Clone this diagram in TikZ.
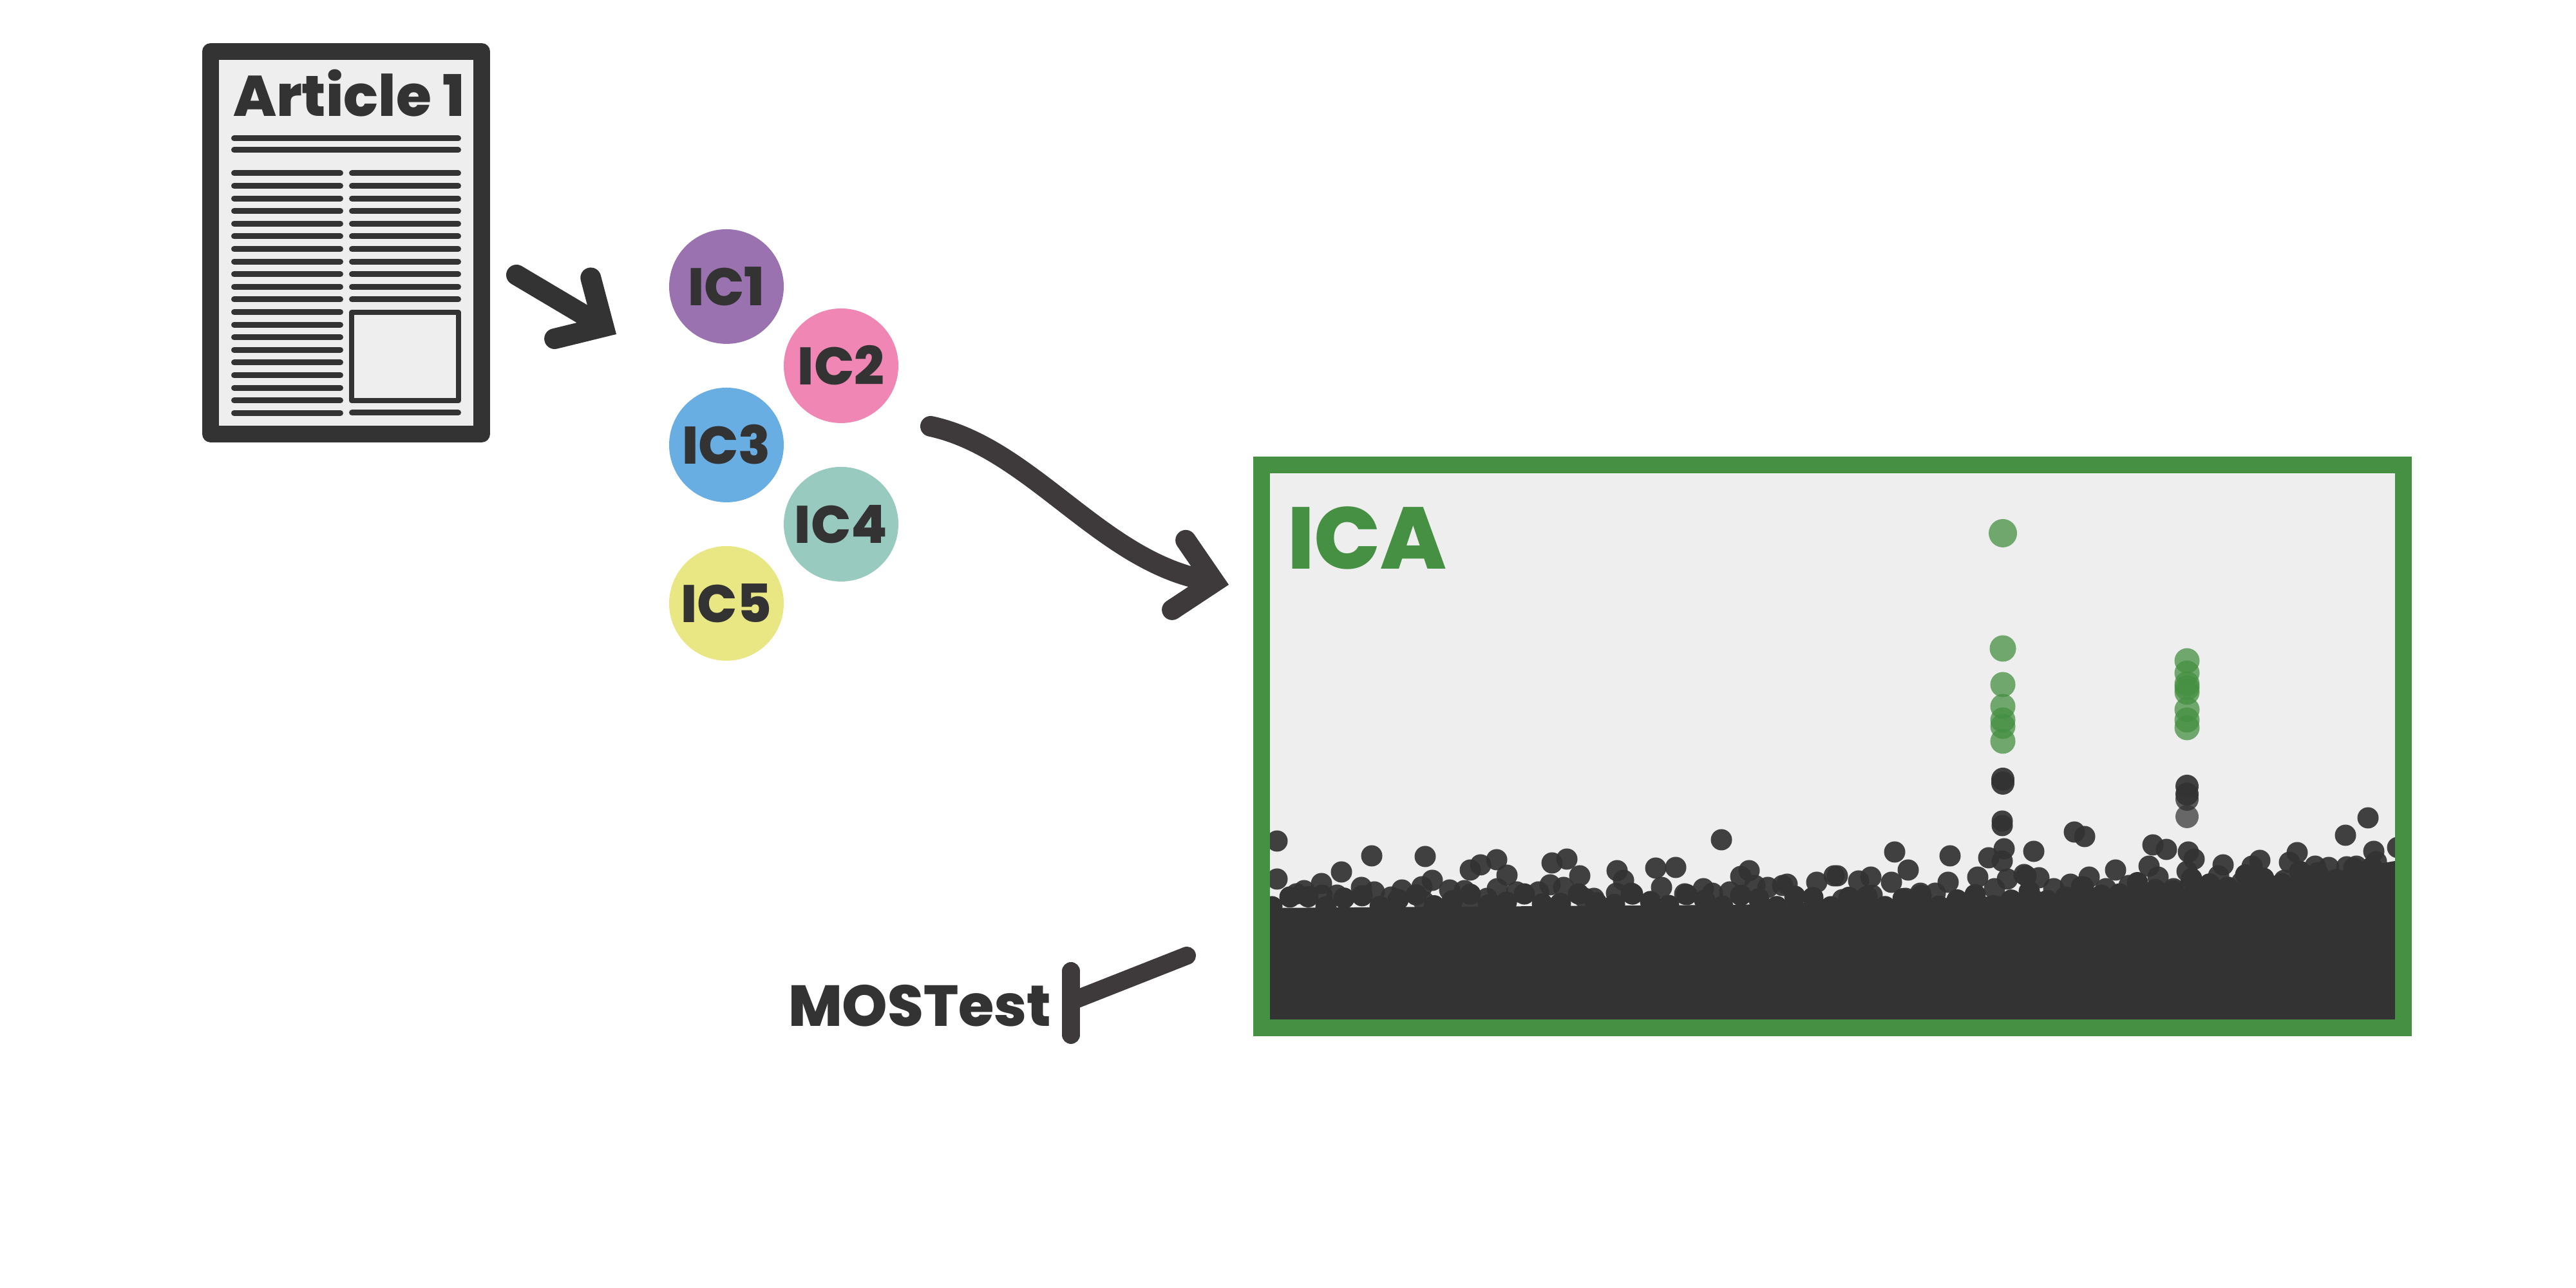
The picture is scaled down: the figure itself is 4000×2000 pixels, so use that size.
\documentclass[tikz,border=0pt]{standalone}
\usepackage{fontspec}
\newfontfamily\popfont{Poppins}[BoldFont={Poppins ExtraBold}]
\usetikzlibrary{arrows.meta,calc,positioning}
\definecolor{inkdark}{HTML}{333333}
\definecolor{inkarrow}{HTML}{3E3A3B}
\definecolor{paper}{HTML}{EEEEEE}
\definecolor{icagreen}{HTML}{459042}
\definecolor{icpurple}{HTML}{9B72B0}
\definecolor{icpink}{HTML}{EF86B3}
\definecolor{icblue}{HTML}{69AEE3}
\definecolor{icteal}{HTML}{98CABF}
\definecolor{icyellow}{HTML}{E8E784}
\tikzset{
  bigbarb/.tip={Straight Barb[length=5.6pt,width=11pt,line cap=round,line join=miter]},
  flow/.style={line width=3.2pt,line cap=round,draw=inkdark,-{bigbarb}},
  flowcurve/.style={flow,line width=3.2pt,draw=inkarrow},
  icnode/.style={circle,inner sep=0pt,minimum size=17.8pt,text=inkdark,text height=6pt,text depth=0pt,
    font=\popfont\bfseries\fontsize{8.2pt}{9pt}\selectfont},
  txtline/.style={line width=.9pt,line cap=round,draw=inkdark},
  sigdot/.style={fill=icagreen,fill opacity=.75},
  nulldot/.style={fill=inkdark,fill opacity=.93}
}

\begin{document}
\begin{tikzpicture}[x=.1pt,y=-.1pt]
%
  \useasboundingbox (0,0) rectangle (4000,2000);
%
  % the article sheet
  \node [draw=inkdark,fill=paper,line width=2.6pt,line join=round,inner sep=0pt,
         minimum width=42.1pt,minimum height=59.4pt] (article) at (537.5,377) {};
  \node [text=inkdark,inner sep=0pt,anchor=base west,
         font=\popfont\bfseries\fontsize{8.9pt}{10pt}\selectfont] (title) at (360,181) {Article 1};
  \foreach \y in {215,233} \draw [txtline] (363.5,\y) -- (711.5,\y);
  \foreach \i in {0,...,19} \draw [txtline] (363.5,269+19.6*\i) -- (528.5,269+19.6*\i);
  \foreach \i in {0,...,10} \draw [txtline] (546.5,269+19.6*\i) -- (711.5,269+19.6*\i);
  \draw [txtline] (546.5,641) -- (711.5,641);
  \draw [draw=inkdark,line width=.8pt,line join=round] (546,485) rectangle (712,622);
%
  % the components
  \node [icnode,fill=icpurple] (ic1) at (1128,445) {IC1};
  \node [icnode,fill=icpink]   (ic2) at (1306,568) {IC2};
  \node [icnode,fill=icblue]   (ic3) at (1128,691) {IC3};
  \node [icnode,fill=icteal]   (ic4) at (1306,814) {IC4};
  \node [icnode,fill=icyellow] (ic5) at (1128,937) {IC5};
%
  % the ICA panel
  \node [fill=paper,inner sep=0pt,minimum width=174.7pt,minimum height=84.6pt] (panel) at (2845.5,1159) {};
  \begin{scope}
    \clip (panel.south west) rectangle (panel.north east);
    \fill [inkdark] (1960,1590) -- (1960,1410) -- (2700,1405) -- (3100,1392) -- (3400,1378)
      -- (3600,1358) -- (3730,1335) -- (3730,1590) -- cycle;
    \foreach \x in {1975,2003,...,3725} {
      \pgfmathsetmacro\yy{1398-max(\x-3100,0)*.08+10*sin(mod(\x,360)*17)}
      \fill [inkdark] (\x,\yy) circle (16.5);
    }
    \foreach \x/\y in {
      1983/1306,1983/1365,2130/1329,2213/1330,2083/1354,2052/1372,2283/1351,2299/1343,
      2324/1335,2340/1359,2410/1340,2433/1334,2453/1360,2428/1378,2407/1374,2224/1367,
      2208/1377,2251/1382,2274/1383,2177/1382,2134/1385,2114/1378,2025/1383,2013/1388,
      2325/1380,2355/1385,2511/1352,2521/1367,2571/1348,2602/1347,2580/1378,2673/1304,
      2703/1361,2716/1352,2725/1375,2645/1380,2616/1388,2659/1387,2686/1385,2745/1378,
      2768/1375,2775/1373,2821/1370,2848/1360,2510/1387,2533/1387,2475/1395,2461/1395,
      2309/1395,2280/1400,2076/1390,2053/1390,2160/1393,2389/1385,2211/1400,
      3109/1275,3109/1282,3112/1318,3109/1337,3088/1332,3158/1322,2942/1323,2963/1351,
      3028/1329,3025/1370,2937/1370,2905/1362,2886/1368,2853/1360,3221/1292,3237/1299,
      3343/1312,3364/1319,3398/1323,3407/1334,3337/1345,3351/1362,3396/1353,3401/1373,
      3285/1351,3244/1362,3270/1380,3306/1375,3452/1343,3445/1360,3509/1336,3497/1345,
      3499/1360,3567/1324,3555/1339,3547/1367,3595/1345,3616/1347,3644/1346,3642/1297,
      3677/1270,3686/1322,3723/1316,3690/1338,3071/1362,3117/1365,3143/1358,3166/1363,
      3146/1360,3215/1373,3232/1377,2982/1387,3005/1387,2959/1395,3375/1380,3321/1383,
      3344/1390,3433/1380,3481/1370,3510/1380,3573/1355,3659/1345,3097/1380,3189/1380,
      3163/1400,2861/1397,2907/1390}
      \fill [nulldot] (\x,\y) circle (16.5);
    \foreach \x/\y in {3110/1210,3110/1216,3396/1221,3396/1233}
      \fill [nulldot] (\x,\y) circle (18);
    \fill [inkdark,fill opacity=.8] (3396,1241) circle (18);
    \fill [inkdark,fill opacity=.72] (3396,1268) circle (18);
    \foreach \y/\r in {828/22,1007/20.5,1063/19.5,1097/19.5,1118/19.5,1128/19.5,1151/19.5}
      \fill [sigdot] (3110,\y) circle (\r);
    \foreach \y in {1026,1045,1062,1068,1075,1102,1118,1130}
      \fill [sigdot] (3396,\y) circle (19.5);
  \end{scope}
  \node [draw=icagreen,line width=2.65pt,inner sep=0pt,minimum width=177.35pt,
         minimum height=87.4pt] (frame) at (2845.5,1159) {};
  \node [text=icagreen,inner sep=0pt,anchor=base west,
         font=\popfont\bfseries\fontsize{13.6pt}{15pt}\selectfont] (icalabel) at (1997,884) {ICA};
%
  % MOSTest and its bar
  \node [text=inkdark,inner sep=0pt,anchor=base west,
         font=\popfont\bfseries\fontsize{8.97pt}{10pt}\selectfont] (mostest) at (1222,1594) {MOSTest};
  \coordinate (bartop) at (1663,1508) ;
  \coordinate (barbot) at (1663,1607) ;
  \coordinate (barmid) at (1663,1555) ;
  \coordinate (barend) at (1843,1484) ;
  \draw [inkarrow,line width=2.8pt,line cap=round] (bartop) -- (barbot) ;
  \draw [inkarrow,line width=2.8pt,line cap=round] (barmid) -- (barend) ;
%
  % the two arrows
  \coordinate (artout) at (802,427) ;
  \coordinate (icin) at (957,519) ;
  \coordinate (icout) at (1445,662) ;
  \coordinate (icaend) at (1908,908) ;
  \draw [flow] (artout) -- (icin) ;
  \draw [flowcurve] (icout) .. controls (1600,695) and (1708,869) .. (icaend) ;

\end{tikzpicture}
\end{document}
